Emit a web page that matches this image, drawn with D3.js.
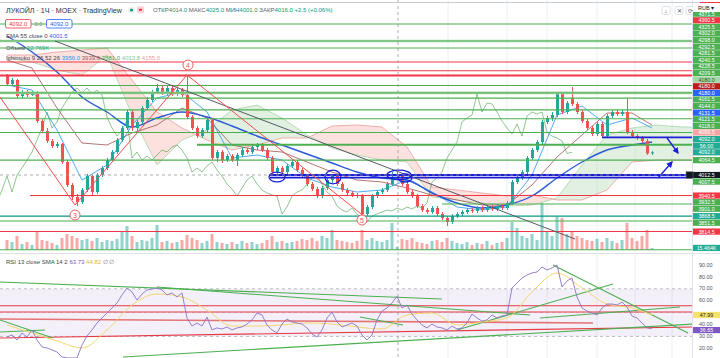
<!DOCTYPE html>
<html><head><meta charset="utf-8">
<script src="https://cdn.jsdelivr.net/npm/d3@7"></script>
<style>html,body{margin:0;padding:0;background:#fff;}svg{display:block;font-family:"Liberation Sans",Arial,sans-serif;}</style>
</head><body><svg id="c" width="720" height="358"></svg>
<script>
// ---------------- DATA ----------------
const open = [4359,4331,4345,4289,4303,4292.5,4299.5,4201.5,4166.5,4131.5,
4114,4121,4058,3977.5,3935.5,3918,3960,4009,3953,4012.5,
4037,4065,4093,4135,4177,4233,4177,4198,4247,4275,
4303,4317,4299.5,4317,4296,4310,4292.5,4215.5,4177,4149,
4170,4205,4072,4093,4065,4079,4065,4082.5,4100,4093,
4110.5,4117.5,4100,4072,4023,4037,4023,4044,4058,4030,
4009,3981,3963.5,3939,3967,3995,4009,3981,3960,3949.5,
3942.5,3939,3876,3900.5,3939,3953,3960,3981,4014,4016,
3981,3953,3939,3904,3890,3883,3897,3876,3862,3848,
3869,3876,3883,3890,3886.5,3897,3890,3900.5,3893.5,3904,
3897,3914.5,3988,4002,4023,4072,4100,4128,4198,4212,
4222.5,4296,4233,4282,4261,4233,4201.5,4177,4156,4191,
4149,4219,4233,4226,4233,4163,4149,4142,4131.5,4088];
const close = [4331,4345,4289,4303,4292.5,4299.5,4201.5,4166.5,4131.5,4114,
4121,4058,3977.5,3935.5,3918,3960,4009,3953,4012.5,4037,
4065,4093,4135,4177,4233,4177,4198,4247,4275,4303,
4317,4299.5,4317,4296,4310,4292.5,4215.5,4177,4149,4170,
4205,4072,4093,4065,4079,4065,4082.5,4100,4093,4110.5,
4117.5,4100,4072,4023,4037,4023,4044,4058,4030,4009,
3981,3963.5,3939,3967,3995,4009,3981,3960,3949.5,3942.5,
3939,3876,3900.5,3939,3953,3960,3981,4002,4016,3981,
3953,3939,3904,3890,3883,3897,3876,3862,3848,3869,
3876,3883,3890,3886.5,3897,3890,3900.5,3893.5,3904,3897,
3914.5,3988,4002,4023,4072,4100,4128,4198,4212,4222.5,
4296,4233,4264.5,4261,4233,4201.5,4177,4156,4191,4149,
4219,4233,4226,4233,4163,4149,4142,4131.5,4088,4092];
const high = [4366,4352,4348.5,4310,4310,4306.5,4306.5,4208.5,4177,4138.5,
4128,4124.5,4065,3984.5,3946,3967,4016,4012.5,4019.5,4044,
4072,4100,4142,4184,4240,4240,4205,4254,4285.5,4310,
4331,4324,4324,4324,4317,4317,4362.5,4222.5,4184,4177,
4212,4212,4100,4100,4086,4086,4089.5,4110.5,4107,4117.5,
4124.5,4124.5,4107,4079,4044,4044,4051,4065,4065,4037,
4016,3988,3970.5,3974,4005.5,4016,4016,3988,3967,3956.5,
3949.5,3946,3907.5,3946,3960,3967,3988,4023,4025,4016,
3988,3960,3946,3911,3897,3904,3904,3883,3869,3876,
3883,3890,3897,3897,3904,3904,3907.5,3907.5,3911,3911,
3921.5,3995,4009,4030,4079,4107,4135,4205,4219,4233,
4299.5,4299.5,4271.5,4320.5,4268,4240,4208.5,4184,4198,4198,
4226,4240,4240,4240,4282,4170,4156,4149,4138.5,4096];
const low = [4324,4324,4282,4282,4285.5,4289,4194.5,4159.5,4124.5,4107,
4107,4051,3970.5,3925,3904,3911,3953,3942.5,3946,4005.5,
4030,4058,4086,4128,4170,4166.5,4166.5,4191,4240,4268,
4296,4292.5,4292.5,4289,4289,4285.5,4208.5,4170,4142,4142,
4163,4065,4058,4054.5,4058,4058,4044,4075.5,4086,4086,
4100,4093,4065,4016,4016,4012.5,4016,4037,4023,4002,
3974,3956.5,3932,3932,3960,3984.5,3974,3953,3942.5,3935.5,
3932,3862,3869,3893.5,3932,3946,3953,3974,4001,3974,
3946,3932,3897,3883,3876,3876,3869,3855,3834,3841,
3862,3869,3876,3879.5,3879.5,3883,3883,3886.5,3886.5,3890,
3890,3907.5,3981,3995,4016,4065,4093,4121,4191,4201.5,
4215.5,4226,4226,4254,4226,4194.5,4170,4149,4149,4142,
4142,4212,4219,4219,4156,4142,4135,4124.5,4083,4083];
const volumeK = [75,60,105,45,60,38,135,75,68,53,
38,90,120,105,90,75,83,68,90,60,
75,68,83,135,180,105,60,75,68,90,
188,60,68,53,60,75,113,90,75,53,
68,120,60,53,45,60,45,68,53,60,
45,53,75,105,60,68,53,60,68,83,
75,90,68,105,90,150,75,68,60,53,
68,150,75,90,68,60,75,203,22.769,83,
75,90,60,53,45,68,75,60,90,68,
53,45,60,38,53,45,68,38,53,60,
90,210,165,105,90,120,75,353,135,105,
248,240,120,135,105,90,75,68,83,60,
90,68,53,75,203,90,68,105,150,15.464];

// sparse indicator readings (bar index -> value)
const lineIdx = [0,5,10,15,20,25,30,35,40,45,50,55,60,65,70,75,80,85,90,95,100,105,110,115,120,125,129];
const ema55 = [4499,4443,4373,4285.5,4233,4180.5,4212,4233,4215.5,4184,4149,4117.5,4086,4054.5,4023,4002,3995,3949.5,3914.5,3897,3907.5,3939,4002,4058,4100,4117.5,4128];
const tenkan = [4327.5,4310,4170,3995,4047.5,4187.5,4282,4303,4233,4072,4082.5,4065,4002,3970.5,3953,3960,3995,3953,3900.5,3890,3900.5,4012.5,4222.5,4254,4187.5,4212,4177];
const kijun = [4415,4387,4247,4124.5,4117.5,4159.5,4187.5,4247,4212,4117.5,4100,4093,4058,4023,3995,3988,3967,3942.5,3925,3907.5,3907.5,3977.5,4075.5,4152.5,4229.5,4229.5,4187.5];
const cloudIdx = [0,5,10,15,20,25,30,35,40,45,50,55,60,65,70,75,80,85,90,95,100,105,110,115,120,125,130,135,137];
const spanA = [4422,4408,4380,4362.5,4432.5,4222.5,4047.5,4135,4170,4240,4257.5,4212,4152.5,4107,4082.5,4065,4058,3935.5,3925,3914.5,3904,3907.5,3932,4047.5,4152.5,4177,4187.5,4180.5,4180.5];
const spanB = [4432.5,4432.5,4443,4450,4457,4345,4233,4177,4135,4100,4117.5,4142,4142,4184,4187.5,4180.5,4110.5,3970.5,3960,3949.5,3939,3942.5,3925,3925,3960,4058,4065,4065,4065];
const chikouShift = 16;

const rsi = [29.5,31.2,27.0,32.9,29.5,35.4,27.0,21.1,20.3,18.6,
16.9,12.7,11.9,11.9,11.9,22.8,30.3,35.4,41.3,45.5,
49.7,53.9,58.1,64.8,70.7,67.3,60.6,65.6,69.0,69.8,
70.7,69.0,64.8,66.5,63.1,66.5,45.5,38.7,41.3,38.7,
46.3,35.4,37.1,36.2,37.9,35.4,37.1,37.9,40.4,43.8,
49.7,48.0,39.6,35.4,32.9,40.4,44.6,42.1,41.3,40.4,
37.1,32.0,29.5,35.4,45.5,50.5,42.1,37.9,39.6,41.3,
38.7,31.2,27.0,31.2,43.8,51.3,53.9,58.1,63.73,53.9,
56.4,48.8,43.8,39.6,37.1,40.4,37.9,37.1,35.4,38.7,
36.2,37.1,41.3,48.8,45.5,42.9,43.8,48.0,45.5,47.1,
48.0,70.7,74.9,79.1,81.6,83.3,84.1,88.3,85.8,87.5,
90.0,71.5,76.6,79.1,63.1,53.9,51.3,49.7,48.0,53.9,
57.2,57.2,56.4,58.9,54.7,47.1,45.5,41.3,37.1,36.65];
const rsiSma = [39.6,32.9,26.1,20.3,35.4,56.4,65.6,63.1,52.2,38.7,38.7,39.6,41.3,40.4,37.9,36.2,48.0,49.7,39.6,42.1,45.5,67.3,83.3,70.7,57.2,53.9,47.99];
const rsiTicks = [90,80,70,60,40,30,20];

// drawn levels (price, kind, start bar)
const hLinePrices = [4541,4481.5,4457,4408,4377.5,4360.5,4325.5,4300,4281.5,4240.5,4209.5,4161.5,4118,4064.5,3940.5,3911,3868.5,3851.5,3814.5,3751];
const hLineKinds  = ['g','gb','g','r','r','r2','g','gb','g','g','g','g','g2','g','r','g','t','g','r','g'];
const hLineStart  = [-3,-3,-3,-3,-3,-3,-3,-3,-3,-3,-3,-3,38,-3,4.6,87,-3,-3,-3,-3];
const blueLinePrices = [4012.5,4003,4144];
const blueLineStart = [52.6,52.6,119];
// wave lines [i1,p1,i2,p2]
const waveLines = [[-1.4,4285.5,13.6,3907.5],[13.6,3907.5,36,4362.5],[36,4362.5,71.6,3865.5]];
const trendLine = [9.6,4481.5,113.6,3788.5];
const waveMarks = [['3',13.6,3872.5],['4',36.2,4397.5],['5',71,3855]];
const blueEllipses = [[54,4005.5,1.6,17],[65.2,4005.5,1.6,24],[78.4,4012.5,2.4,17],[79.6,4002,1.4,14]];
const blueArrows = [[132,4142,134.2,4089.5],[130.2,4002,133,4058]];
const rsiGreenLines = [[-1.4,75.7,87,61.4],[30,71.5,104.6,48.0],[23.2,12.7,137.2,40.4],[90,35.4,121.2,74.0],[109.2,90,136.2,32.9],[106.6,45.5,134.6,54.7],[-1.4,43.8,9.2,28.7],[-1.4,33.7,7.6,35.4],[70.6,46.3,79.2,39.6]];
const rsiRedLines = [[-1.4,55.8,137.2,55.8],[-1.4,50.5,137.2,50.5],[-1.4,44.6,117.2,41.3],[-1.4,28.7,137.2,37.9]];
const gridIdx = [88.2,100,108,118,125.6,133];
const crossIdx = 78.2, crossPrice = 4012.5;

// price-axis labels
const aboveLabelPrices = [4371.5,4360.5,4325.5,4302,4298,4292.5,4281.5,4240.5,4228.5,4209.5,4180,4180,4180,4161.5,4144,4131.5,4121.5,4118,4099.5];
const aboveLabelKinds  = ['g','r','g','g','g','g','g','g','g','g','lg','dr','b','g','g','b','g','g','pk'];
const lastPrice = 4092, lastLabels = ['4092.0','56:00','4092.0'];
const belowLabelPrices = [4064.5,4012.5,4007.5,3940.5,3932.5,3901,3868.5,3851.5,3814.5];
const belowLabelKinds  = ['g','k','g','r','g','g','t','g','r'];

// ---------------- DRAW ----------------
const PW = 692;
const x = d3.scaleLinear().domain([0,129]).range([7,652]);
const yP = d3.scaleLinear().domain([3750,4625]).range([250,0]);
const yV = d3.scaleLinear().domain([0,375]).range([250,200]);
const yR = d3.scaleLinear().domain([0,100]).range([372.1,253.1]);
const svg = d3.select('#c');
const UP='#26a69a', DN='#ef5350';
const KC = {g:'#4caf50',r:'#f23645',lg:'#a5d6a7',dr:'#b71c1c',b:'#2962ff',pk:'#f7a4a4',t:'#22ab94',k:'#131722'};

const defs = svg.append('defs');
defs.append('clipPath').attr('id','cm').append('rect').attr('x',0).attr('y',0).attr('width',PW).attr('height',252);
defs.append('clipPath').attr('id','cr').append('rect').attr('x',0).attr('y',254).attr('width',PW).attr('height',104);
svg.append('rect').attr('width',720).attr('height',358).attr('fill','#fff');

// grid
gridIdx.forEach(i=>{
  svg.append('line').attr('x1',x(i)).attr('x2',x(i)).attr('y1',0).attr('y2',358).attr('stroke','#eef0f4').attr('stroke-width',1);
});

const gm = svg.append('g').attr('clip-path','url(#cm)');
const gr = svg.append('g').attr('clip-path','url(#cr)');

// cloud
const cp=[];
for(let k=0;k<cloudIdx.length;k++){
  cp.push({i:cloudIdx[k],a:spanA[k],b:spanB[k]});
  if(k<cloudIdx.length-1){
    const d0=spanA[k]-spanB[k], d1=spanA[k+1]-spanB[k+1];
    if(d0*d1<0){const t=d0/(d0-d1);const m=spanA[k]+t*(spanA[k+1]-spanA[k]);cp.push({i:cloudIdx[k]+t*(cloudIdx[k+1]-cloudIdx[k]),a:m,b:m});}
  }
}
gm.append('path').datum(cp).attr('fill','rgba(67,160,71,0.16)')
  .attr('d',d3.area().x(d=>x(d.i)).y0(d=>yP(d.b)).y1(d=>yP(Math.max(d.a,d.b))));
gm.append('path').datum(cp).attr('fill','rgba(244,67,54,0.16)')
  .attr('d',d3.area().x(d=>x(d.i)).y0(d=>yP(d.a)).y1(d=>yP(Math.max(d.a,d.b))));
gm.append('path').datum(cp).attr('fill','none').attr('stroke','#a5d6a7').attr('stroke-width',0.8)
  .attr('d',d3.line().x(d=>x(d.i)).y(d=>yP(d.a)));
gm.append('path').datum(cp).attr('fill','none').attr('stroke','#ef9a9a').attr('stroke-width',0.8)
  .attr('d',d3.line().x(d=>x(d.i)).y(d=>yP(d.b)));

// volume
gm.selectAll('.vol').data(volumeK).join('rect')
  .attr('x',(d,i)=>x(i)-1.5).attr('width',3)
  .attr('y',d=>yV(d)).attr('height',d=>250-yV(d))
  .attr('fill',(d,i)=>close[i]>=open[i]?'rgba(38,166,154,0.5)':'rgba(239,83,80,0.5)');

// chikou
gm.append('path').datum(close).attr('fill','none').attr('stroke','#43a047').attr('stroke-opacity',0.75).attr('stroke-width',0.8)
  .attr('d',d3.line().x((d,i)=>x(i-chikouShift)).y(d=>yP(d)));
// kijun, tenkan
gm.append('path').datum(kijun).attr('fill','none').attr('stroke','#a0524f').attr('stroke-width',0.8)
  .attr('d',d3.line().x((d,k)=>x(lineIdx[k])).y(d=>yP(d)));
gm.append('path').datum(tenkan).attr('fill','none').attr('stroke','#2196f3').attr('stroke-width',0.8)
  .attr('d',d3.line().x((d,k)=>x(lineIdx[k])).y(d=>yP(d)));
// EMA
gm.append('path').datum(ema55).attr('fill','none').attr('stroke','#2a5bd7').attr('stroke-width',1.4)
  .attr('d',d3.line().curve(d3.curveMonotoneX).x((d,k)=>x(lineIdx[k])).y(d=>yP(d)));

// candles
const cg = gm.append('g');
close.forEach((c,i)=>{
  const o=open[i], col=c>=o?UP:DN, cx=Math.round(x(i))+0.5;
  cg.append('line').attr('x1',cx).attr('x2',cx).attr('y1',yP(high[i])).attr('y2',yP(low[i])).attr('stroke',col).attr('stroke-width',1);
  const top=yP(Math.max(o,c)), bot=yP(Math.min(o,c));
  cg.append('rect').attr('x',cx-1.5).attr('width',3).attr('y',top).attr('height',Math.max(1,bot-top)).attr('fill',col);
});

// horizontal levels
hLinePrices.forEach((p,k)=>{
  const kind=hLineKinds[k], x1=x(hLineStart[k]), yy=yP(p);
  if(kind==='gb'){
    gm.append('line').attr('x1',x1).attr('x2',PW).attr('y1',yy).attr('y2',yy).attr('stroke','#a5d6a7').attr('stroke-width',2.6);
  }
  const col = kind.startsWith('r')?'#f23645':(kind==='t'?'#089981':'#4caf50');
  const w = (kind==='r2'||kind==='g2')?2:1.1;
  gm.append('line').attr('x1',x1).attr('x2',PW).attr('y1',yy).attr('y2',yy).attr('stroke',col).attr('stroke-width',w).attr('stroke-opacity',kind==='gb'?0.8:1);
});
blueLinePrices.forEach((p,k)=>{
  gm.append('line').attr('x1',x(blueLineStart[k])).attr('x2',PW).attr('y1',yP(p)).attr('y2',yP(p)).attr('stroke','#1a1fd6').attr('stroke-width',1.8);
});

// trend + wave lines
gm.append('line').attr('x1',x(trendLine[0])).attr('y1',yP(trendLine[1])).attr('x2',x(trendLine[2])).attr('y2',yP(trendLine[3])).attr('stroke','#555a66').attr('stroke-width',1);
waveLines.forEach(l=>{
  gm.append('line').attr('x1',x(l[0])).attr('y1',yP(l[1])).attr('x2',x(l[2])).attr('y2',yP(l[3])).attr('stroke','#ef4f4f').attr('stroke-width',1);
});
waveMarks.forEach(m=>{
  const g=gm.append('g').attr('transform',`translate(${x(m[1])},${yP(m[2])})`);
  g.append('circle').attr('r',5).attr('fill','#fff').attr('stroke','#ef4f4f').attr('stroke-width',0.9);
  g.append('text').attr('text-anchor','middle').attr('dy','2.5').attr('font-size',7).attr('fill','#ef4f4f').text(m[0]);
});
blueEllipses.forEach(e=>{
  gm.append('ellipse').attr('cx',x(e[0])).attr('cy',yP(e[1])).attr('rx',x(e[2])-x(0)).attr('ry',yP(0)-yP(e[3]))
    .attr('fill','none').attr('stroke','#1a1fd6').attr('stroke-width',1.3);
});
defs.append('marker').attr('id','ah').attr('viewBox','0 0 10 10').attr('refX',8).attr('refY',5).attr('markerWidth',5).attr('markerHeight',5).attr('orient','auto')
  .append('path').attr('d','M0,0L10,5L0,10z').attr('fill','#1a1fd6');
blueArrows.forEach(a=>{
  gm.append('line').attr('x1',x(a[0])).attr('y1',yP(a[1])).attr('x2',x(a[2])).attr('y2',yP(a[3])).attr('stroke','#1a1fd6').attr('stroke-width',1.3).attr('marker-end','url(#ah)');
});

// ---------------- RSI pane ----------------
gr.append('rect').attr('x',0).attr('width',PW).attr('y',yR(70)).attr('height',yR(30)-yR(70)).attr('fill','rgba(126,87,194,0.09)');
[70,50,30].forEach(v=>{
  gr.append('line').attr('x1',0).attr('x2',PW).attr('y1',yR(v)).attr('y2',yR(v)).attr('stroke','#9598a1').attr('stroke-dasharray','3,3').attr('stroke-width',0.8).attr('stroke-opacity',v===50?0.45:0.8);
});
rsiRedLines.forEach((l,k)=>{
  gr.append('line').attr('x1',x(l[0])).attr('y1',yR(l[1])).attr('x2',x(l[2])).attr('y2',yR(l[3])).attr('stroke',k===2?'#e57373':'#e53945').attr('stroke-width',k===2?1.6:1.1);
});
rsiGreenLines.forEach(l=>{
  gr.append('line').attr('x1',x(l[0])).attr('y1',yR(l[1])).attr('x2',x(l[2])).attr('y2',yR(l[3])).attr('stroke','#4caf50').attr('stroke-width',1.1);
});
gr.append('path').datum(rsiSma).attr('fill','none').attr('stroke','#f5d76e').attr('stroke-width',1)
  .attr('d',d3.line().curve(d3.curveMonotoneX).x((d,k)=>x(lineIdx[k])).y(d=>yR(d)));
gr.append('path').datum(rsi).attr('fill','none').attr('stroke','#8c72c9').attr('stroke-width',0.9)
  .attr('d',d3.line().x((d,i)=>x(i)).y(d=>yR(d)));

// crosshair
svg.append('line').attr('x1',x(crossIdx)).attr('x2',x(crossIdx)).attr('y1',0).attr('y2',358).attr('stroke','#9598a1').attr('stroke-dasharray','3,3').attr('stroke-width',0.8);
svg.append('line').attr('x1',0).attr('x2',PW).attr('y1',yP(crossPrice)).attr('y2',yP(crossPrice)).attr('stroke','#9598a1').attr('stroke-dasharray','3,3').attr('stroke-width',0.8);

// borders
svg.append('line').attr('x1',0).attr('x2',720).attr('y1',253.5).attr('y2',253.5).attr('stroke','#e0e3eb');
svg.append('line').attr('x1',PW+0.5).attr('x2',PW+0.5).attr('y1',0).attr('y2',358).attr('stroke','#e0e3eb');
svg.append('line').attr('x1',0).attr('x2',700).attr('y1',2.5).attr('y2',2.5).attr('stroke','#c9cdd6');
svg.append('line').attr('x1',700).attr('x2',720).attr('y1',2.5).attr('y2',2.5).attr('stroke','#f23645');

// ---------------- legends ----------------
const T = svg.append('g').attr('fill','#131722');
T.append('text').attr('x',6).attr('y',12.6).attr('font-size',7.1).attr('fill','#2a2e39').text('ЛУКОЙЛ · 1Ч · MOEX · TradingView');
T.append('circle').attr('cx',131.5).attr('cy',10).attr('r',3.6).attr('fill','#e8f5ee');
T.append('circle').attr('cx',131.5).attr('cy',10).attr('r',1.5).attr('fill','#089981');
T.append('rect').attr('x',137).attr('y',6.3).attr('width',7).attr('height',7).attr('rx',1.5).attr('fill','#fbd3d6');
T.append('rect').attr('x',139).attr('y',8.8).attr('width',3).attr('height',2).attr('fill','#f23645');
const ohlc = T.append('text').attr('x',153).attr('y',12.3).attr('font-size',6);
[['ОТКР','#5d606b'],['4014.0','#089981'],[' МАКС','#5d606b'],['4025.0','#089981'],[' МИН','#5d606b'],['4001.0','#089981'],[' ЗАКР','#5d606b'],['4016.0','#089981'],[' +2.5 (+0.06%)','#089981']]
  .forEach(s=>ohlc.append('tspan').attr('fill',s[1]).text(s[0]));
// buy/sell boxes
T.append('rect').attr('x',5.5).attr('y',19.5).attr('width',25.5).attr('height',8.5).attr('rx',1.5).attr('fill','#fff').attr('stroke','#f23645').attr('stroke-width',0.8);
T.append('text').attr('x',18.2).attr('y',26).attr('text-anchor','middle').attr('font-size',6).attr('fill','#f23645').text('4092.0');
T.append('text').attr('x',38.5).attr('y',26).attr('text-anchor','middle').attr('font-size',5.5).attr('fill','#787b86').text('0.0');
T.append('rect').attr('x',46.5).attr('y',19.5).attr('width',25.5).attr('height',8.5).attr('rx',1.5).attr('fill','#fff').attr('stroke','#2962ff').attr('stroke-width',0.8);
T.append('text').attr('x',59.2).attr('y',26).attr('text-anchor','middle').attr('font-size',6).attr('fill','#2962ff').text('4092.0');
const le = T.append('text').attr('x',6).attr('y',38).attr('font-size',6);
le.append('tspan').attr('fill','#434651').text('EMA 55 close 0 ');
le.append('tspan').attr('fill','#2962ff').text('4001.5');
const lv = T.append('text').attr('x',6).attr('y',49.5).attr('font-size',6);
lv.append('tspan').attr('fill','#434651').text('Объем ');
lv.append('tspan').attr('fill','#22ab94').text('22.769K');
const li = T.append('text').attr('x',6).attr('y',59.5).attr('font-size',6);
[['Ichimoku 9 26 52 26 ','#434651'],['3956.0 ','#2196f3'],['3939.0 ','#a0524f'],['3881.0 ','#43a047'],['4013.8 ','#81c784'],['4155.0','#ef9a9a']]
  .forEach(s=>li.append('tspan').attr('fill',s[1]).text(s[0]));
const lr = T.append('text').attr('x',6).attr('y',263.5).attr('font-size',6);
[['RSI 13 close SMA 14 2 ','#434651'],['63.73 ','#7e57c2'],['44.82 ','#e0b92c'],['∅ ∅','#787b86']]
  .forEach(s=>lr.append('tspan').attr('fill',s[1]).text(s[0]));

// top-right buttons
[[662,'↓'],[675,'✕'],[686,'⟳']].forEach(b=>{
  svg.append('rect').attr('x',b[0]).attr('y',6.5).attr('width',8).attr('height',8).attr('rx',1.5).attr('fill','#fff').attr('stroke','#d1d4dc').attr('stroke-width',0.7);
  svg.append('text').attr('x',b[0]+4).attr('y',12.6).attr('text-anchor','middle').attr('font-size',6).attr('fill','#50535e').text(b[1]);
});

// ---------------- price axis labels ----------------
const LH = 6.6;
function priceLabel(yc, txt, kind){
  const bg = KC[kind]||'#22ab94';
  svg.append('rect').attr('x',PW+1).attr('y',yc-LH/2+0.2).attr('width',27).attr('height',LH-0.4).attr('fill',bg);
  svg.append('text').attr('x',PW+14.5).attr('y',yc+2).attr('text-anchor','middle').attr('font-size',5.3)
    .attr('fill',kind==='lg'?'#1b5e20':'#fff').text(txt);
}
const yLast = yP(lastPrice);
priceLabel(yLast,lastLabels[2],'t');
priceLabel(yLast-LH,lastLabels[1],'t');
priceLabel(yLast-2*LH,lastLabels[0],'t');
let prev = yLast-2*LH;
for(let k=aboveLabelPrices.length-1;k>=0;k--){
  const yy=Math.min(yP(aboveLabelPrices[k]),prev-LH); prev=yy;
  priceLabel(yy,aboveLabelPrices[k].toFixed(1),aboveLabelKinds[k]);
}
prev = yLast;
belowLabelPrices.forEach((p,k)=>{
  const yy=Math.max(yP(p),prev+LH); prev=yy;
  priceLabel(yy,p.toFixed(1),belowLabelKinds[k]);
  if(belowLabelKinds[k]==='k'){
    svg.append('rect').attr('x',PW-6).attr('y',yy-3.3).attr('width',7).attr('height',6.6).attr('fill','#131722').attr('stroke','#787b86').attr('stroke-width',0.5);
  }
});
priceLabel(yV(volumeK[volumeK.length-1]), volumeK[volumeK.length-1].toFixed(3)+'K','t');
// currency
svg.append('rect').attr('x',PW+1).attr('y',3).attr('width',27).attr('height',9).attr('fill','#fff');
svg.append('text').attr('x',PW+6).attr('y',10).attr('font-size',5.5).attr('fill','#131722').text('RUB ▾');

// RSI axis
rsiTicks.forEach(v=>{
  svg.append('text').attr('x',PW+7).attr('y',yR(v)+1.6).attr('font-size',5.4).attr('fill','#50535e').text(v.toFixed(2));
});
const lastSma = rsiSma[rsiSma.length-1], lastRsi = rsi[rsi.length-1];
function rsiBox(v, bg, fg, off){
  const yc=yR(v)+off;
  svg.append('rect').attr('x',PW+1).attr('y',yc-3.1).attr('width',27).attr('height',6.2).attr('fill',bg);
  svg.append('text').attr('x',PW+14.5).attr('y',yc+1.9).attr('text-anchor','middle').attr('font-size',5.3).attr('fill',fg).text(v.toFixed(2));
}
rsiBox(lastSma,'#f7e26b','#131722',0);
rsiBox(lastRsi,'#7e57c2','#fff',1.6);
</script>
</body></html>
